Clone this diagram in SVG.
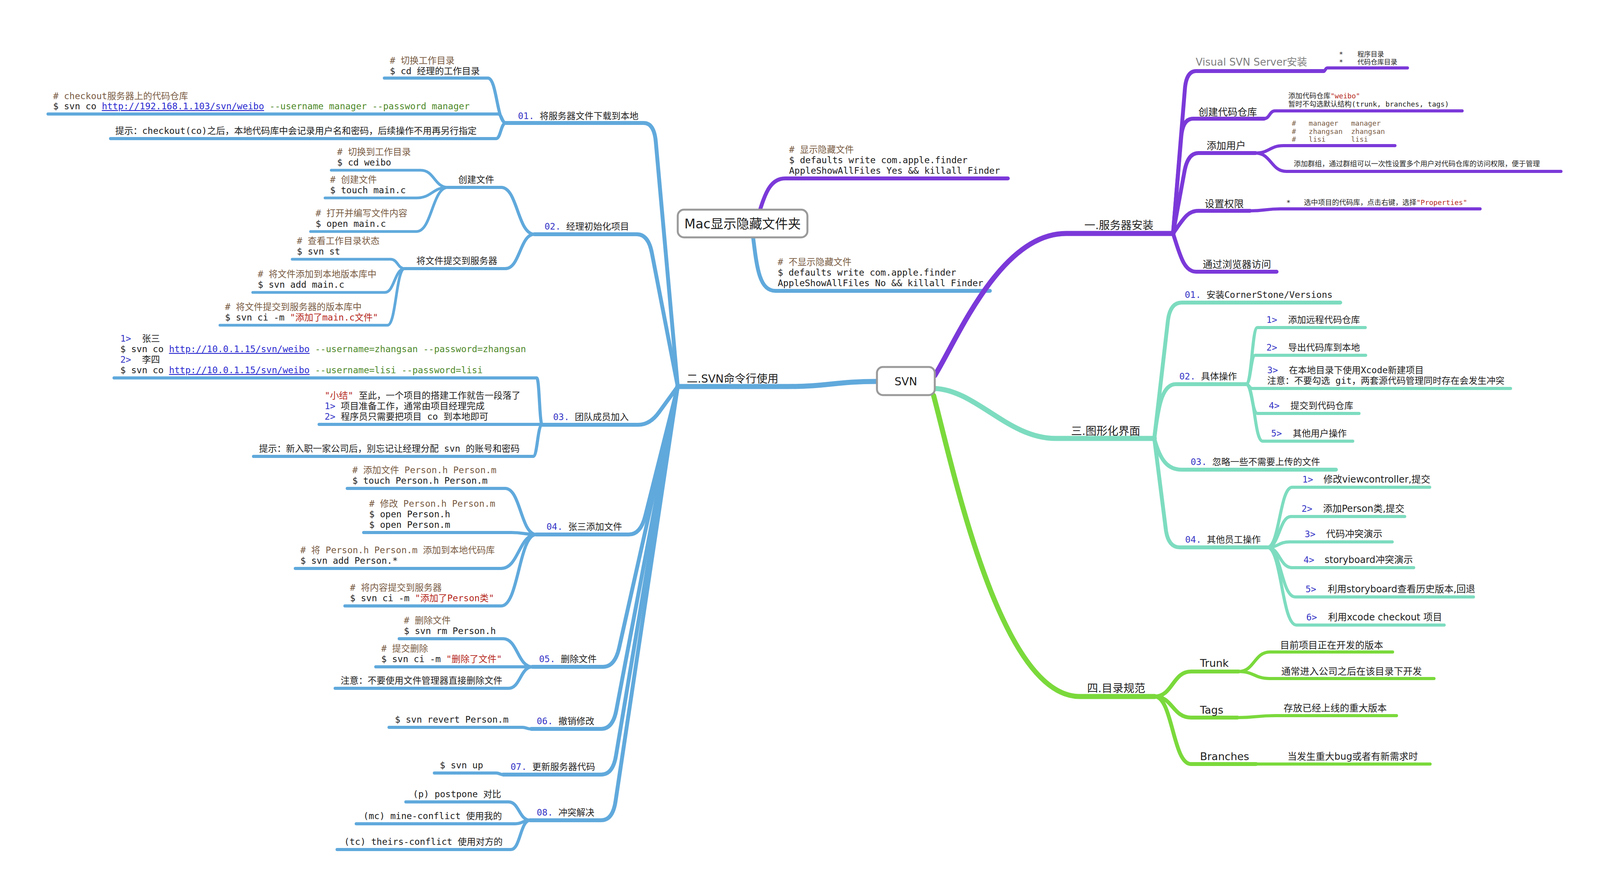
<svg xmlns="http://www.w3.org/2000/svg" width="4114" height="2295" viewBox="0 0 4114 2295" xml:space="preserve">
<style>
text{white-space:pre}
.m{font-family:"DejaVu Sans Mono","Liberation Mono","Noto Sans CJK SC",monospace;font-size:23px;fill:#1e1e1e}
.s{font-family:"DejaVu Sans","Noto Sans CJK SC",sans-serif;fill:#1e1e1e}
.h{font-size:28px}
.k{font-size:25px}
.q{font-size:24px}
.sm{font-size:18px}
.xs{font-size:17px}
.c{fill:#7a5c44}
.n{fill:#3535c6}
.g{fill:#4f8a2b}
.u{fill:#2a2ad0;text-decoration:underline}
.r{fill:#b5281c}
.gy{fill:#808080}
path{fill:none;stroke-linecap:round;stroke-linejoin:round}
.b{stroke:#60a9dc}
.p{stroke:#7b39d9}
.t{stroke:#7ddcbf}
.gr{stroke:#7ad93b}
.w13{stroke-width:13}
.w10{stroke-width:10}
.w8{stroke-width:8}
.w7{stroke-width:7}
.box{fill:#fff;stroke:#9a9a9a;stroke-width:5}
</style>
<rect width="4114" height="2295" fill="#fff"/>
<g id="connectors">
<path class="b w13" d="M2245,977 C2140,977 2120,990 2015,990 L1735,990"/>
<path class="b w10" d="M1735,990 L1679,365 Q1675,315 1648,315 L1295,315"/>
<path class="b w10" d="M1735,990 L1669,649 Q1660,600 1630,600 L1368,600"/>
<path class="b w10" d="M1735,990 L1687,1056 Q1664,1088 1634,1088 L1388,1088"/>
<path class="b w10" d="M1735,990 L1652,1321 Q1640,1369 1610,1369 L1373,1369"/>
<path class="b w10" d="M1735,990 L1585,1659 Q1574,1708 1544,1708 L1363,1708"/>
<path class="b w10" d="M1735,990 L1578,1818 Q1569,1867 1539,1867 L1360,1867"/>
<path class="b w10" d="M1735,990 L1577,1935 Q1569,1984 1539,1984 L1288,1984"/>
<path class="b w10" d="M1735,990 L1576,2051 Q1569,2101 1539,2101 L1357,2101"/>
<path class="b w8" d="M1295,315 C1272,315 1272,200 1249,200 L984,200"/>
<path class="b w8" d="M1295,315 C1285,315 1285,292 1275,292 L123,292"/>
<path class="b w8" d="M1295,315 C1282,315 1282,355 1270,355 L283,355"/>
<path class="b w8" d="M1368,600 C1325,600 1325,480 1283,480 L1147,480"/>
<path class="b w8" d="M1368,600 C1331,600 1331,688 1294,688 L1036,688"/>
<path class="b w7" d="M1147,480 C1112,480 1112,436 1077,436 L848,436"/>
<path class="b w7" d="M1147,480 C1106,480 1106,507 1066,507 L832,507"/>
<path class="b w7" d="M1147,480 C1106,480 1106,593 1066,593 L795,593"/>
<path class="b w7" d="M1036,688 C1018,688 1018,664 1000,664 L748,664"/>
<path class="b w7" d="M1036,688 C1010,688 1010,749 985,749 L647,749"/>
<path class="b w7" d="M1036,688 C1014,688 1014,833 992,833 L563,833"/>
<path class="b w8" d="M1388,1088 C1381,1088 1381,968 1374,968 L292,968"/>
<path class="b w8" d="M1388,1088 C1385,1088 1385,1087 1383,1087 L817,1087"/>
<path class="b w8" d="M1388,1088 C1376,1088 1376,1169 1365,1169 L649,1169"/>
<path class="b w8" d="M1373,1369 C1333,1369 1333,1251 1293,1251 L889,1251"/>
<path class="b w8" d="M1373,1369 C1341,1369 1341,1364 1309,1364 L931,1364"/>
<path class="b w8" d="M1373,1369 C1328,1369 1328,1456 1283,1456 L756,1456"/>
<path class="b w8" d="M1373,1369 C1328,1369 1328,1552 1283,1552 L883,1552"/>
<path class="b w8" d="M1363,1708 C1325,1708 1325,1636 1288,1636 L1022,1636"/>
<path class="b w8" d="M1363,1708 L962,1708"/>
<path class="b w8" d="M1363,1708 C1332,1708 1332,1763 1302,1763 L858,1763"/>
<path class="b w8" d="M1360,1867 C1348,1867 1348,1863 1337,1863 L996,1863"/>
<path class="b w8" d="M1288,1984 C1279,1984 1279,1980 1270,1980 L1112,1980"/>
<path class="b w8" d="M1357,2101 C1329,2101 1329,2054 1302,2054 L1039,2054"/>
<path class="b w8" d="M1357,2101 C1338,2101 1338,2110 1319,2110 L912,2110"/>
<path class="b w8" d="M1357,2101 C1332,2101 1332,2176 1308,2176 L863,2176"/>
<path class="p w10" d="M1945,540 C1960,490 1975,457 2010,457 L2580,457"/>
<path class="b w10" d="M1928,608 C1938,690 1945,745 1985,745 L2534,745"/>
<path class="p w13" d="M2393,962 C2450,870 2560,598 2729,598 L3003,598"/>
<path class="t w13" d="M2393,995 C2500,1000 2580,1123 2703,1123 L2955,1123"/>
<path class="gr w13" d="M2390,1013 C2440,1200 2560,1784 2764,1784 L2956,1784"/>
<path class="p w10" d="M3003,598 L3033,232 Q3036,182 3062,182 L3389,182"/>
<path class="p w10" d="M3003,598 L3024,350 Q3028,304 3054,304 L3236,304"/>
<path class="p w10" d="M3003,598 L3033,435 Q3042,392 3068,392 L3214,392"/>
<path class="p w10" d="M3003,598 C3030,560 3040,540 3068,540 L3200,540"/>
<path class="p w10" d="M3003,598 C3020,650 3030,696 3062,696 L3268,696"/>
<path class="p w8" d="M3389,182 C3393,182 3393,174 3398,174 L3603,174"/>
<path class="p w8" d="M3236,304 C3250,304 3250,284 3264,284 L3743,284"/>
<path class="p w8" d="M3214,392 C3250,392 3250,373 3286,373 L3571,373"/>
<path class="p w8" d="M3214,392 C3254,392 3254,439 3293,439 L3996,439"/>
<path class="p w8" d="M3200,540 C3239,540 3239,535 3278,535 L3789,535"/>
<path class="t w10" d="M2955,1123 L2990,820 Q2996,775 3025,775 L3431,775"/>
<path class="t w10" d="M2955,1123 C2965,1040 2975,984 3010,984 L3190,984"/>
<path class="t w10" d="M2955,1123 C2970,1180 2990,1203 3025,1203 L3420,1203"/>
<path class="t w10" d="M2955,1123 L2985,1360 Q2992,1402 3020,1402 L3244,1402"/>
<path class="t w8" d="M3190,984 C3205,984 3205,839 3219,839 L3495,839"/>
<path class="t w8" d="M3190,984 C3202,984 3202,910 3213,910 L3496,910"/>
<path class="t w8" d="M3190,984 C3198,984 3198,995 3206,995 L3867,995"/>
<path class="t w8" d="M3190,984 C3205,984 3205,1059 3219,1059 L3479,1059"/>
<path class="t w8" d="M3190,984 C3211,984 3211,1130 3232,1130 L3463,1130"/>
<path class="t w8" d="M3244,1402 C3276,1402 3276,1248 3308,1248 L3660,1248"/>
<path class="t w8" d="M3244,1402 C3275,1402 3275,1323 3305,1323 L3596,1323"/>
<path class="t w8" d="M3244,1402 C3273,1402 3273,1388 3302,1388 L3564,1388"/>
<path class="t w8" d="M3244,1402 C3276,1402 3276,1454 3308,1454 L3619,1454"/>
<path class="t w8" d="M3244,1402 C3280,1402 3280,1529 3316,1529 L3772,1529"/>
<path class="t w8" d="M3244,1402 C3281,1402 3281,1601 3319,1601 L3697,1601"/>
<path class="gr w10" d="M2956,1784 C3002,1784 3002,1720 3049,1720 L3171,1720"/>
<path class="gr w10" d="M2956,1784 C3002,1784 3002,1838 3049,1838 L3168,1838"/>
<path class="gr w10" d="M2956,1784 C3002,1784 3002,1957 3049,1957 L3216,1957"/>
<path class="gr w8" d="M3171,1720 C3211,1720 3211,1670 3251,1670 L3565,1670"/>
<path class="gr w8" d="M3171,1720 C3211,1720 3211,1738 3251,1738 L3671,1738"/>
<path class="gr w8" d="M3168,1838 C3216,1838 3216,1833 3264,1833 L3575,1833"/>
<path class="gr w8" d="M3216,1957 L3661,1957"/>
</g>
<g id="node-svn"><rect class="box" x="2245" y="940" width="148" height="72" rx="15"/><text class="s" x="2319" y="987" font-size="28" text-anchor="middle">SVN</text></g>
<g id="node-mac"><rect class="box" x="1735" y="537" width="332" height="71" rx="16"/><text class="s" x="1901" y="585" font-size="33" text-anchor="middle">Mac显示隐藏文件夹</text></g>
<g id="node-mac-show"><text class="m c" x="2020" y="391"># 显示隐藏文件</text><text class="m" x="2020" y="418">$ defaults write com.apple.finder</text><text class="m" x="2020" y="445">AppleShowAllFiles Yes &amp;&amp; killall Finder</text></g>
<g id="node-mac-hide"><text class="m c" x="1991" y="679"># 不显示隐藏文件</text><text class="m" x="1991" y="706">$ defaults write com.apple.finder</text><text class="m" x="1991" y="733">AppleShowAllFiles No &amp;&amp; killall Finder</text></g>
<g id="node-cli"><text class="s h" x="1758" y="980">二.SVN命令行使用</text></g>
<g id="node-01"><text class="m" x="1326" y="305"><tspan class="n">01.</tspan> 将服务器文件下载到本地</text></g>
<g id="node-01a"><text class="m c" x="998" y="163"># 切换工作目录</text><text class="m" x="998" y="190">$ cd 经理的工作目录</text></g>
<g id="node-01b"><text class="m c" x="136" y="254"># checkout服务器上的代码仓库</text><text class="m" x="136" y="280">$ svn co <tspan class="u">http://192.168.1.103/svn/weibo</tspan><tspan class="g"> --username manager --password manager</tspan></text></g>
<g id="node-01c"><text class="m" x="295" y="343">提示：checkout(co)之后，本地代码库中会记录用户名和密码，后续操作不用再另行指定</text></g>
<g id="node-02"><text class="m" x="1394" y="588"><tspan class="n">02.</tspan> 经理初始化项目</text></g>
<g id="node-02a"><text class="m" x="1173" y="468">创建文件</text></g>
<g id="node-02a1"><text class="m c" x="863" y="397"># 切换到工作目录</text><text class="m" x="863" y="424">$ cd weibo</text></g>
<g id="node-02a2"><text class="m c" x="845" y="468"># 创建文件</text><text class="m" x="845" y="495">$ touch main.c</text></g>
<g id="node-02a3"><text class="m c" x="808" y="554"># 打开并编写文件内容</text><text class="m" x="808" y="581">$ open main.c</text></g>
<g id="node-02b"><text class="m" x="1066" y="676">将文件提交到服务器</text></g>
<g id="node-02b1"><text class="m c" x="760" y="625"># 查看工作目录状态</text><text class="m" x="760" y="652">$ svn st</text></g>
<g id="node-02b2"><text class="m c" x="660" y="710"># 将文件添加到本地版本库中</text><text class="m" x="660" y="737">$ svn add main.c</text></g>
<g id="node-02b3"><text class="m c" x="576" y="794"># 将文件提交到服务器的版本库中</text><text class="m" x="576" y="821">$ svn ci -m <tspan class="r">"添加了main.c文件"</tspan></text></g>
<g id="node-03"><text class="m" x="1416" y="1076"><tspan class="n">03.</tspan> 团队成员加入</text></g>
<g id="node-03a"><text class="m" x="308" y="875"><tspan class="n">1&gt;</tspan>  张三</text><text class="m" x="308" y="902">$ svn co <tspan class="u">http://10.0.1.15/svn/weibo</tspan><tspan class="g"> --username=zhangsan --password=zhangsan</tspan></text><text class="m" x="308" y="929"><tspan class="n">2&gt;</tspan>  李四</text><text class="m" x="308" y="956">$ svn co <tspan class="u">http://10.0.1.15/svn/weibo</tspan><tspan class="g"> --username=lisi --password=lisi</tspan></text></g>
<g id="node-03b"><text class="m" x="831" y="1021"><tspan class="r">"小结"</tspan> 至此，一个项目的搭建工作就告一段落了</text><text class="m" x="831" y="1048"><tspan class="n">1&gt;</tspan> 项目准备工作，通常由项目经理完成</text><text class="m" x="831" y="1075"><tspan class="n">2&gt;</tspan> 程序员只需要把项目 co 到本地即可</text></g>
<g id="node-03c"><text class="m" x="663" y="1157">提示：新入职一家公司后，别忘记让经理分配 svn 的账号和密码</text></g>
<g id="node-04"><text class="m" x="1399" y="1357"><tspan class="n">04.</tspan> 张三添加文件</text></g>
<g id="node-04a"><text class="m c" x="902" y="1212"># 添加文件 Person.h Person.m</text><text class="m" x="902" y="1239">$ touch Person.h Person.m</text></g>
<g id="node-04b"><text class="m c" x="945" y="1298"># 修改 Person.h Person.m</text><text class="m" x="945" y="1325">$ open Person.h</text><text class="m" x="945" y="1352">$ open Person.m</text></g>
<g id="node-04c"><text class="m c" x="769" y="1417"># 将 Person.h Person.m 添加到本地代码库</text><text class="m" x="769" y="1444">$ svn add Person.*</text></g>
<g id="node-04d"><text class="m c" x="896" y="1513"># 将内容提交到服务器</text><text class="m" x="896" y="1540">$ svn ci -m <tspan class="r">"添加了Person类"</tspan></text></g>
<g id="node-05"><text class="m" x="1380" y="1696"><tspan class="n">05.</tspan> 删除文件</text></g>
<g id="node-05a"><text class="m c" x="1034" y="1597"># 删除文件</text><text class="m" x="1034" y="1624">$ svn rm Person.h</text></g>
<g id="node-05b"><text class="m c" x="976" y="1669"># 提交删除</text><text class="m" x="976" y="1696">$ svn ci -m <tspan class="r">"删除了文件"</tspan></text></g>
<g id="node-05c"><text class="m" x="872" y="1751">注意：不要使用文件管理器直接删除文件</text></g>
<g id="node-06"><text class="m" x="1374" y="1855"><tspan class="n">06.</tspan> 撤销修改</text></g>
<g id="node-06a"><text class="m" x="1011" y="1851">$ svn revert Person.m</text></g>
<g id="node-07"><text class="m" x="1307" y="1972"><tspan class="n">07.</tspan> 更新服务器代码</text></g>
<g id="node-07a"><text class="m" x="1126" y="1968">$ svn up</text></g>
<g id="node-08"><text class="m" x="1374" y="2089"><tspan class="n">08.</tspan> 冲突解决</text></g>
<g id="node-08a"><text class="m" x="1057" y="2042">(p) postpone 对比</text></g>
<g id="node-08b"><text class="m" x="930" y="2098">(mc) mine-conflict 使用我的</text></g>
<g id="node-08c"><text class="m" x="881" y="2164">(tc) theirs-conflict 使用对方的</text></g>
<g id="node-server"><text class="s h" x="2776" y="587">一.服务器安装</text></g>
<g id="node-visualsvn"><text class="s gy" x="3061" y="168" font-size="26">Visual SVN Server安装</text></g>
<g id="node-visualsvn-dirs"><text class="m xs" x="3428" y="145">*</text><text class="m xs" x="3475" y="145">程序目录</text><text class="m xs" x="3428" y="165">*</text><text class="m xs" x="3475" y="165">代码仓库目录</text></g>
<g id="node-repo"><text class="s k" x="3068" y="296">创建代码仓库</text></g>
<g id="node-repo-note"><text class="m sm" x="3298" y="252">添加代码仓库<tspan class="r">"weibo"</tspan></text><text class="m sm" x="3298" y="273">暂时不勾选默认结构(trunk, branches, tags)</text></g>
<g id="node-users"><text class="s k" x="3089" y="382">添加用户</text></g>
<g id="node-users-list"><text class="m sm c" x="3307" y="322">#   manager   manager</text><text class="m sm c" x="3307" y="343">#   zhangsan  zhangsan</text><text class="m sm c" x="3307" y="363">#   lisi      lisi</text></g>
<g id="node-users-group"><text class="m sm" x="3312" y="426">添加群组，通过群组可以一次性设置多个用户对代码仓库的访问权限，便于管理</text></g>
<g id="node-perm"><text class="s k" x="3084" y="531">设置权限</text></g>
<g id="node-perm-note"><text class="m sm" x="3293" y="525">*</text><text class="m sm" x="3338" y="525">选中项目的代码库，点击右键，选择<tspan class="r">"Properties"</tspan></text></g>
<g id="node-browser"><text class="s k" x="3079" y="686">通过浏览器访问</text></g>
<g id="node-gui"><text class="s h" x="2742" y="1114">三.图形化界面</text></g>
<g id="node-g01"><text class="m" x="3033" y="763"><tspan class="n">01.</tspan> 安装CornerStone/Versions</text></g>
<g id="node-g02"><text class="m" x="3019" y="972"><tspan class="n">02.</tspan> 具体操作</text></g>
<g id="node-g02-1"><text class="m" x="3242" y="827"><tspan class="n">1&gt;</tspan>  添加远程代码仓库</text></g>
<g id="node-g02-2"><text class="m" x="3242" y="898"><tspan class="n">2&gt;</tspan>  导出代码库到本地</text></g>
<g id="node-g02-3"><text class="m" x="3244" y="956"><tspan class="n">3&gt;</tspan>  在本地目录下使用Xcode新建项目</text><text class="m" x="3244" y="983">注意：不要勾选 git，两套源代码管理同时存在会发生冲突</text></g>
<g id="node-g02-4"><text class="m" x="3248" y="1047"><tspan class="n">4&gt;</tspan>  提交到代码仓库</text></g>
<g id="node-g02-5"><text class="m" x="3254" y="1118"><tspan class="n">5&gt;</tspan>  其他用户操作</text></g>
<g id="node-g03"><text class="m" x="3048" y="1191"><tspan class="n">03.</tspan> 忽略一些不需要上传的文件</text></g>
<g id="node-g04"><text class="m" x="3034" y="1390"><tspan class="n">04.</tspan> 其他员工操作</text></g>
<g id="node-g04-1"><text class="m n" x="3334" y="1236">1&gt;</text><text class="s q" x="3388" y="1236">修改viewcontroller,提交</text></g>
<g id="node-g04-2"><text class="m n" x="3332" y="1311">2&gt;</text><text class="s q" x="3387" y="1311">添加Person类,提交</text></g>
<g id="node-g04-3"><text class="m n" x="3340" y="1376">3&gt;</text><text class="s q" x="3395" y="1376">代码冲突演示</text></g>
<g id="node-g04-4"><text class="m n" x="3337" y="1442">4&gt;</text><text class="s q" x="3391" y="1442">storyboard冲突演示</text></g>
<g id="node-g04-5"><text class="m n" x="3342" y="1517">5&gt;</text><text class="s q" x="3399" y="1517">利用storyboard查看历史版本,回退</text></g>
<g id="node-g04-6"><text class="m n" x="3344" y="1589">6&gt;</text><text class="s q" x="3400" y="1589">利用xcode checkout 项目</text></g>
<g id="node-dirs"><text class="s h" x="2783" y="1773">四.目录规范</text></g>
<g id="node-trunk"><text class="s" x="3072" y="1708" font-size="27">Trunk</text></g>
<g id="node-trunk-1"><text class="s q" x="3277" y="1661">目前项目正在开发的版本</text></g>
<g id="node-trunk-2"><text class="s q" x="3280" y="1728">通常进入公司之后在该目录下开发</text></g>
<g id="node-tags"><text class="s" x="3072" y="1828" font-size="27">Tags</text></g>
<g id="node-tags-1"><text class="s q" x="3286" y="1822">存放已经上线的重大版本</text></g>
<g id="node-branches"><text class="s" x="3072" y="1947" font-size="27">Branches</text></g>
<g id="node-branches-1"><text class="s q" x="3296" y="1946">当发生重大bug或者有新需求时</text></g>
</svg>
